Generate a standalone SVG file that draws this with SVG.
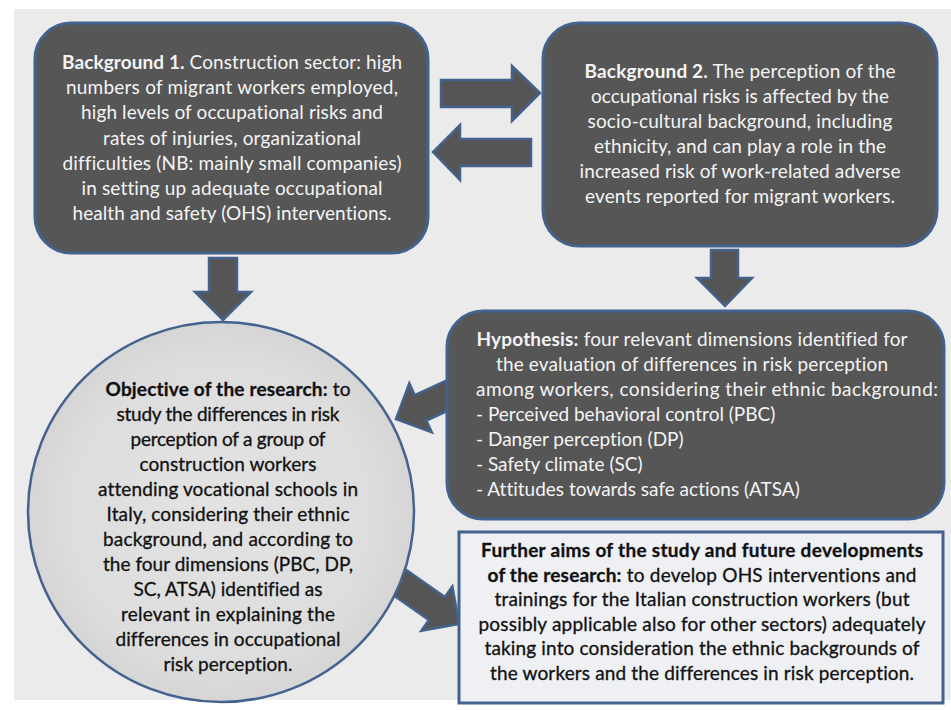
<svg xmlns="http://www.w3.org/2000/svg" width="951" height="710" viewBox="0 0 951 710">
<defs>
<style>
.bg{fill:#ebebeb}
.dark{fill:#565656;stroke:#43628d;stroke-width:3}
.light{fill:#eef0f3;stroke:#43628d;stroke-width:3}
.circ{fill:url(#cg);stroke:#43628d;stroke-width:2.5}
.arr{fill:#555555;stroke:#43628d;stroke-width:2.5;stroke-linejoin:miter}
text{font-family:Lato,"Liberation Sans",sans-serif;font-size:19px;font-variant-ligatures:none}
.w{fill:#f4f4f4;text-anchor:middle}
.k{fill:#111;stroke:#111;stroke-width:0.3;text-anchor:middle}
.ws{fill:#f4f4f4}
.b{font-weight:bold}
</style>
<radialGradient id="cg" cx="0.5" cy="0.5" r="0.5">
<stop offset="0" stop-color="#e3e3e3"/>
<stop offset="0.8" stop-color="#dddddd"/>
<stop offset="1" stop-color="#d5d5d5"/>
</radialGradient>
</defs>
<rect class="bg" x="14" y="9" width="937" height="691"/>
<g id="connectors">
<polygon class="arr" points="441,80 512,80 512,66 540,93 512,121 512,107 441,107"/>
<polygon class="arr" points="531,139 460,139 460,125 433,152 460,180 460,166 531,166"/>
<polygon class="arr" points="209,258 237,258 237,292 251,292 223,320 195,292 209,292"/>
<polygon class="arr" points="711,250 738,250 738,278 752,278 725,306 697,278 711,278"/>
<polygon class="arr" transform="translate(396,419) rotate(155.4)" points="0,0 -27,-27 -27,-14 -70,-14 -70,14 -27,14 -27,27"/>
<polygon class="arr" transform="translate(459,624) rotate(35)" points="0,0 -27,-27 -27,-14 -82,-14 -82,14 -27,14 -27,27"/>
</g>
<g id="background1">
<rect class="dark" x="35" y="23" width="393" height="230" rx="36"/>
<text class="w" x="232" y="69" textLength="340"><tspan class="b">Background 1.</tspan> Construction sector: high</text>
<text class="w" x="232" y="94" textLength="332">numbers of migrant workers employed,</text>
<text class="w" x="232" y="119" textLength="302">high levels of occupational risks and</text>
<text class="w" x="232" y="144.5" textLength="258">rates of injuries, organizational</text>
<text class="w" x="232" y="170" textLength="339">difficulties (NB: mainly small companies)</text>
<text class="w" x="232" y="195" textLength="301">in setting up adequate occupational</text>
<text class="w" x="232" y="220" textLength="319">health and safety (OHS) interventions.</text>
</g>
<g id="background2">
<rect class="dark" x="543" y="23" width="394" height="223" rx="36"/>
<text class="w" x="740" y="78" textLength="311"><tspan class="b">Background 2.</tspan> The perception of the</text>
<text class="w" x="740" y="103" textLength="298">occupational risks is affected by the</text>
<text class="w" x="740" y="128" textLength="305">socio-cultural background, including</text>
<text class="w" x="740" y="153" textLength="292">ethnicity, and can play a role in the</text>
<text class="w" x="740" y="178" textLength="321">increased risk of work-related adverse</text>
<text class="w" x="740" y="203" textLength="310">events reported for migrant workers.</text>
</g>
<g id="hypothesis">
<rect class="dark" x="447" y="311" width="497" height="208" rx="36"/>
<text class="w" x="692" y="346" textLength="431"><tspan class="b">Hypothesis:</tspan> four relevant dimensions identified for</text>
<text class="w" x="692" y="371" textLength="392">the evaluation of differences in risk perception</text>
<text class="ws" x="476" y="396" textLength="462">among workers, considering their ethnic background:</text>
<text class="ws" x="476" y="421">- Perceived behavioral control (PBC)</text>
<text class="ws" x="476" y="446">- Danger perception (DP)</text>
<text class="ws" x="476" y="471">- Safety climate (SC)</text>
<text class="ws" x="476" y="496">- Attitudes towards safe actions (ATSA)</text>
</g>
<g id="objective">
<ellipse class="circ" cx="221" cy="512" rx="193" ry="190"/>
<text class="k" x="228" y="395.5" textLength="245"><tspan class="b">Objective of the research:</tspan> to</text>
<text class="k" x="228" y="420.5" textLength="223">study the differences in risk</text>
<text class="k" x="228" y="445.6" textLength="195">perception of a group of</text>
<text class="k" x="228" y="470.7" textLength="177">construction workers</text>
<text class="k" x="228" y="495.7" textLength="260">attending vocational schools in</text>
<text class="k" x="228" y="520.8" textLength="243">Italy, considering their ethnic</text>
<text class="k" x="228" y="545.8" textLength="250">background, and according to</text>
<text class="k" x="228" y="570.9" textLength="250">the four dimensions (PBC, DP,</text>
<text class="k" x="228" y="595.9" textLength="189">SC, ATSA) identified as</text>
<text class="k" x="228" y="621" textLength="214">relevant in explaining the</text>
<text class="k" x="228" y="646" textLength="225">differences in occupational</text>
<text class="k" x="228" y="671" textLength="129">risk perception.</text>
</g>
<g id="further">
<rect class="light" x="459" y="532" width="484" height="171"/>
<text class="k b" x="702" y="557" textLength="442">Further aims of the study and future developments</text>
<text class="k" x="702" y="581.5" textLength="429"><tspan class="b">of the research:</tspan> to develop OHS interventions and</text>
<text class="k" x="702" y="606" textLength="415">trainings for the Italian construction workers (but</text>
<text class="k" x="702" y="630.5" textLength="447">possibly applicable also for other sectors) adequately</text>
<text class="k" x="702" y="655" textLength="435">taking into consideration the ethnic backgrounds of</text>
<text class="k" x="702" y="679.5" textLength="424">the workers and the differences in risk perception.</text>
</g>
</svg>
